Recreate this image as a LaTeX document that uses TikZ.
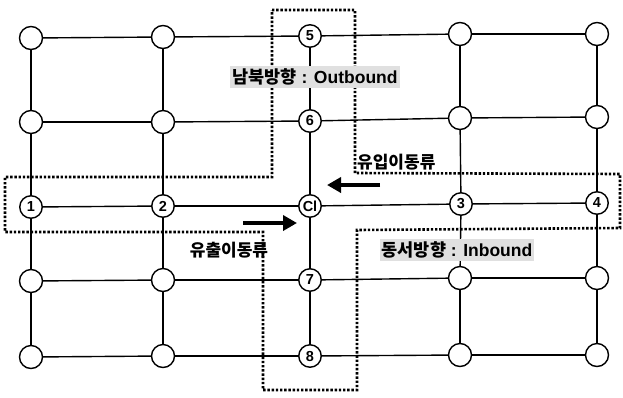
\documentclass[tikz,border=0pt]{standalone}
\usepackage{fontspec}
\setmainfont{Liberation Sans}
\newfontfamily\kr{Noto Sans CJK KR}
\usetikzlibrary{arrows.meta,backgrounds}
\tikzset{
  big/.style={circle,draw,line width=1.4pt,fill=white,minimum size=23pt,inner sep=0pt},
  num/.style={circle,draw,line width=1.4pt,fill=white,minimum size=22.5pt,inner sep=0pt,font=\bfseries\fontsize{14.5}{14.5}\selectfont},
  link/.style={line width=1.4pt},
  zone/.style={line width=2.6pt,dash pattern=on 2.4pt off 1.8pt},
  tag/.style={fill=black!12,inner xsep=2pt,inner ysep=3pt,font=\bfseries\fontsize{17.5}{17.5}\selectfont},
  flowtxt/.style={font=\kr\bfseries\fontsize{17}{17}\selectfont,inner sep=0pt},
  flow/.style={line width=3.8pt,-{Triangle[length=14pt,width=15pt]}}
}
\begin{document}
\begin{tikzpicture}[x=1pt,y=-1pt]
\useasboundingbox (0,0) rectangle (623,397);
% nodes
\node[big] (a1) at (31,38) {};
\node[big] (a2) at (163,37) {};
\node[num] (a3) at (310,36) {5};
\node[big] (a4) at (460,34) {};
\node[big] (a5) at (597,34) {};
\node[big] (b1) at (31,122) {};
\node[big] (b2) at (163,122) {};
\node[num] (b3) at (310,121) {6};
\node[big] (b4) at (460,118) {};
\node[big] (b5) at (597,117) {};
\node[num] (c1) at (31,207) {1};
\node[num] (c2) at (163,206) {2};
\node[num] (c3) at (310,206) {Cl};
\node[num] (c4) at (461,204) {3};
\node[num] (c5) at (597,203) {4};
\node[big] (d1) at (31,281) {};
\node[big] (d2) at (163,280) {};
\node[num] (d3) at (310,280) {7};
\node[big] (d4) at (460,278) {};
\node[big] (d5) at (597,278) {};
\node[big] (e1) at (31,357) {};
\node[big] (e2) at (163,356) {};
\node[num] (e3) at (310,356) {8};
\node[big] (e4) at (460,355) {};
\node[big] (e5) at (597,355) {};
% links
\begin{scope}[on background layer]
\foreach \r in {a,b,c,d,e}{
  \draw[link] (\r1) -- (\r2);
  \draw[link] (\r2) -- (\r3);
  \draw[link] (\r3) -- (\r4);
  \draw[link] (\r4) -- (\r5);
}
\foreach \c in {1,...,5}{
  \draw[link] (a\c) -- (b\c);
  \draw[link] (b\c) -- (c\c);
  \draw[link] (c\c) -- (d\c);
  \draw[link] (d\c) -- (e\c);
}
\end{scope}
% zone outline
\draw[zone] (272,10) -- (355,10) -- (355,173) -- (620,174) -- (620,228) -- (357,230) -- (357,390) -- (263,390) -- (263,232) -- (5,232) -- (5,177) -- (272,177) -- cycle;
% labels
\node[tag] (ns) at (315,77) {{\kr 남북방향} : Outbound};
\node[tag] (ew) at (457,250) {{\kr 동서방향} : Inbound};
\node[flowtxt,anchor=west] (inl) at (357,162) {유입이동류};
\node[flowtxt] (outl) at (229,250) {유출이동류};
\coordinate (ia) at (380,185);
\coordinate (ib) at (327,185);
\coordinate (oa) at (243,223);
\coordinate (ob) at (297,223);
\draw[flow] (ia) -- (ib);
\draw[flow] (oa) -- (ob);
\end{tikzpicture}
\end{document}
